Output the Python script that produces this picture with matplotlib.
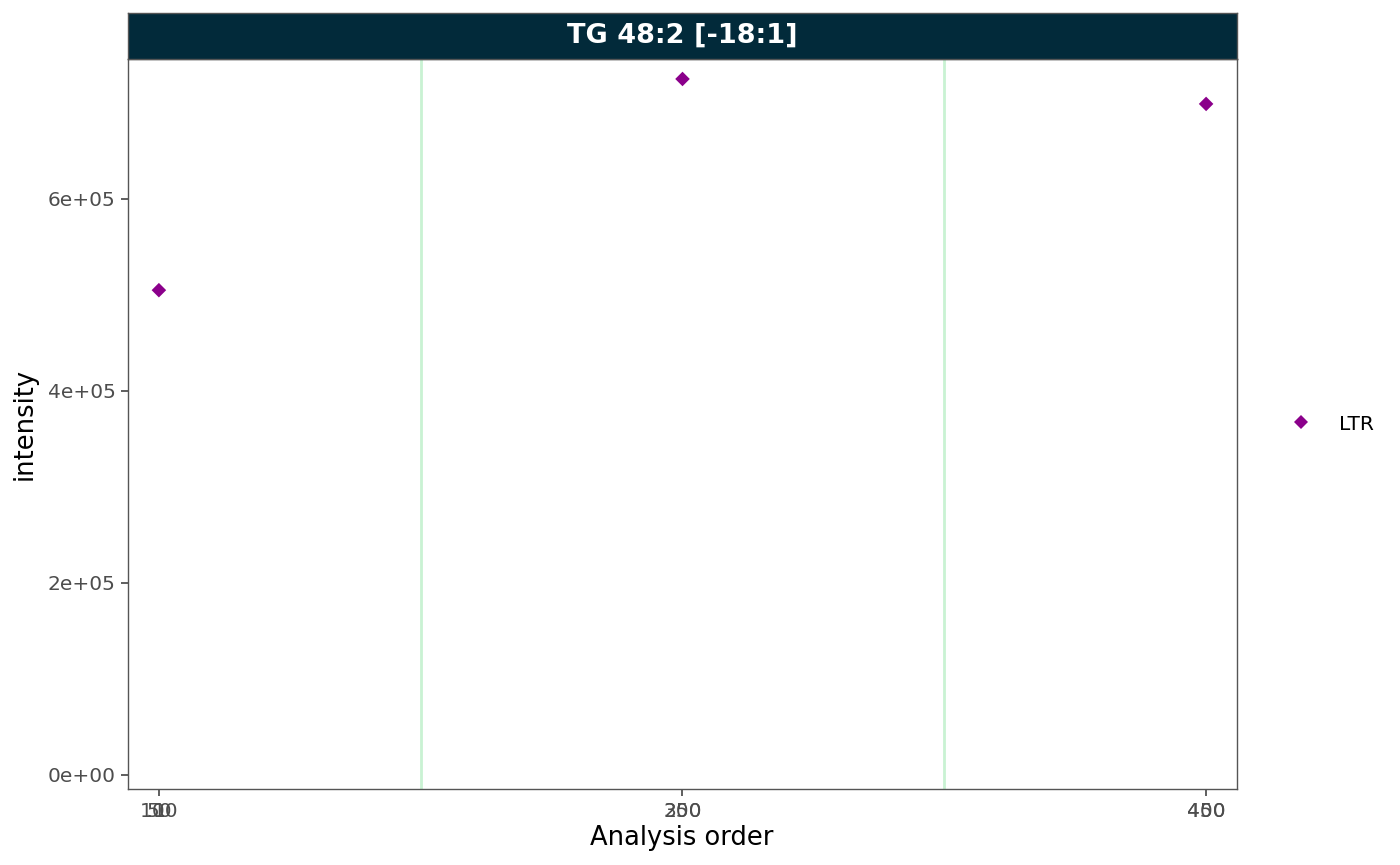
import matplotlib
matplotlib.use("Agg")
import matplotlib.pyplot as plt
from matplotlib.lines import Line2D

# data
sample_pos = [0, 1, 2]
intensity = [5.05e5, 7.25e5, 6.99e5]
batch_breaks = [0.5, 1.5]
tick_groups = [["1", "50", "100"], ["250", "300"], ["400", "450"]]
y_ticks = [0, 2e5, 4e5, 6e5]
y_labels = ["0e+00", "2e+05", "4e+05", "6e+05"]
title = "TG 48:2 [-18:1]"

W, H = 1400, 865
fig = plt.figure(figsize=(W / 100, H / 100), dpi=100)

# panel
ax = fig.add_axes([128 / W, 1 - 789 / H, (1237 - 128) / W, (789 - 59) / H])
for xb in batch_breaks:
    ax.axvline(xb, color="#c9f2d3", lw=2, zorder=1)
ax.scatter(sample_pos, intensity, marker="D", s=55, color="#8B008B",
           edgecolors="none", zorder=3)

ax.set_xlim(-0.059, 2.059)
ax.set_ylim(-0.146e5, 7.458e5)

ax.set_yticks(y_ticks, labels=y_labels)
ax.set_xticks(sample_pos, labels=[""] * len(sample_pos))
ax.tick_params(axis="both", length=5, width=1.1, color="#333333",
               labelsize=14.5, labelcolor="#4D4D4D", pad=4)

# overlapping tick labels, as in the original
for xp, labs in zip(sample_pos, tick_groups):
    for lab in labs:
        ax.annotate(lab, xy=(xp, 0), xycoords=("data", "axes fraction"),
                    xytext=(0, -9.5), textcoords="offset points",
                    ha="center", va="top", fontsize=14.5, color="#4D4D4D")

for sp in ax.spines.values():
    sp.set_color("#555555")
    sp.set_linewidth(1.0)

fig.text(682 / W, 1 - 838 / H, "Analysis order", ha="center", va="center",
         fontsize=18.5, color="black")
fig.text(25 / W, 1 - 424 / H, "intensity", ha="center", va="center",
         rotation=90, fontsize=18.5, color="black")

# facet strip
strip = fig.add_axes([128 / W, 1 - 59 / H, (1237 - 128) / W, (59 - 13) / H])
strip.set_facecolor("#022a3a")
strip.set_xticks([])
strip.set_yticks([])
for sp in strip.spines.values():
    sp.set_color("#555555")
    sp.set_linewidth(1.0)
strip.text(0.5, 0.5, title, ha="center", va="center", color="white",
           fontsize=19.5, fontweight="bold", transform=strip.transAxes)

# legend
handle = Line2D([], [], marker="D", linestyle="none", color="#8B008B",
                markersize=7, markeredgewidth=0)
fig.legend([handle], ["LTR"], loc="center left",
           bbox_to_anchor=(1281 / W, 1 - 424 / H), frameon=False,
           fontsize=14.5, handletextpad=0.9, borderaxespad=0, borderpad=0)

fig.savefig("out.png", dpi=100)
